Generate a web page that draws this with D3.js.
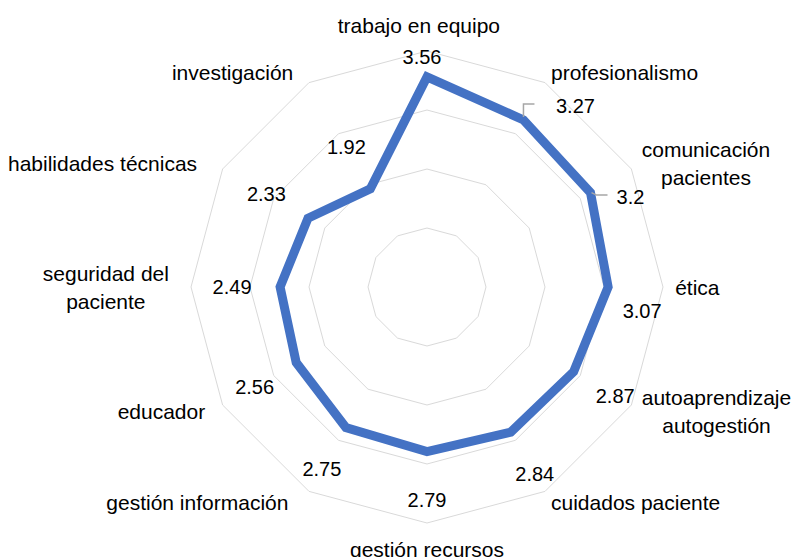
<!DOCTYPE html>
<html>
<head>
<meta charset="utf-8">
<script src="https://cdn.jsdelivr.net/npm/d3@7"></script>
<style>
  html, body { margin: 0; padding: 0; background: #fff; }
  svg { display: block; }
  text { font-family: "Liberation Sans", Arial, Helvetica, sans-serif; fill: #000; }
</style>
</head>
<body>
<script>
// ---- data ----
const categories = [
  ["trabajo en equipo"],
  ["profesionalismo"],
  ["comunicación", "pacientes"],
  ["ética"],
  ["autoaprendizaje", "autogestión"],
  ["cuidados paciente"],
  ["gestión recursos"],
  ["gestión información"],
  ["educador"],
  ["seguridad del", "paciente"],
  ["habilidades técnicas"],
  ["investigación"]
];
const values = [3.56, 3.27, 3.2, 3.07, 2.87, 2.84, 2.79, 2.75, 2.56, 2.49, 2.33, 1.92];
const valueLabels = ["3.56", "3.27", "3.2", "3.07", "2.87", "2.84", "2.79", "2.75", "2.56", "2.49", "2.33", "1.92"];
const gridLevels = [1, 2, 3, 4];

// ---- layout ----
const W = 799, H = 557;
const cx = 427, cy = 287;
const svg = d3.select("body").append("svg").attr("width", W).attr("height", H);

const r = d3.scaleLinear().domain([0, 4]).range([0, 236]);
const n = categories.length;
const angle = d3.scaleLinear().domain([0, n]).range([0, 2 * Math.PI]);
const pt = (i, rad) => [cx + rad * Math.sin(angle(i)), cy - rad * Math.cos(angle(i))];

// grid rings
const ringLine = d3.line().curve(d3.curveLinearClosed);
svg.append("g").selectAll("path").data(gridLevels).join("path")
  .attr("d", lv => ringLine(d3.range(n).map(i => pt(i, r(lv)))))
  .attr("fill", "none").attr("stroke", "#d9d9d9").attr("stroke-width", 1);

// series
const seriesLine = d3.line().curve(d3.curveLinearClosed);
svg.append("path")
  .attr("d", seriesLine(values.map((v, i) => pt(i, r(v)))))
  .attr("fill", "none").attr("stroke", "#4472C4").attr("stroke-width", 9)
  .attr("stroke-linejoin", "miter").attr("stroke-miterlimit", 10);

// category labels
const labR = 248, lineH = 28;
const catG = svg.append("g").attr("font-size", 21);
categories.forEach((lines, i) => {
  const [px, py] = pt(i, labR);
  const s = Math.sin(angle(i)), c = Math.cos(angle(i));
  const t = catG.append("text").attr("dominant-baseline", "central");
  lines.forEach((ln, k) => t.append("tspan").attr("x", 0).attr("dy", k === 0 ? 0 : lineH).text(ln));
  const bb = t.node().getBBox();
  const w = bb.width;
  let left;
  if (s > 0.01) left = px;
  else if (s < -0.01) left = px - w - 0.08 * w;
  else left = px - w / 2 - (c > 0 ? 0.05 * w : 0);
  const midX = left + w / 2;
  t.selectAll("tspan").attr("x", midX);
  t.attr("text-anchor", "middle");
  const blockH = (lines.length - 1) * lineH;
  let y0;
  if (Math.abs(s) < 0.01) y0 = c > 0 ? py - 14 : py + 14;
  else y0 = py - blockH / 2;
  t.attr("transform", `translate(0,${y0})`);
});

// value labels (default: radial offset from the point; a few were moved in the original)
const valOffset = 48;
const movedLabels = { 0: [-5, -20], 1: [52, -14], 2: [40, 4], 3: [34, 24] };
const valG = svg.append("g").attr("font-size", 20);
values.forEach((v, i) => {
  const [px, py] = pt(i, r(v));
  let lx, ly;
  if (movedLabels[i]) { lx = px + movedLabels[i][0]; ly = py + movedLabels[i][1]; }
  else { const [qx, qy] = pt(i, r(v) + valOffset); lx = qx; ly = qy; }
  valG.append("text").attr("x", lx).attr("y", ly)
    .attr("text-anchor", "middle").attr("dominant-baseline", "central")
    .text(valueLabels[i]);
});

// leader lines for moved labels
const leader = svg.append("g").attr("fill", "none").attr("stroke", "#a6a6a6").attr("stroke-width", 1.5);
{
  const [px, py] = pt(1, r(values[1]));
  leader.append("path").attr("d", d3.line()([[px, py - 3], [px, py - 16], [px + 11, py - 16]]));
}
{
  const [px, py] = pt(2, r(values[2]));
  leader.append("path").attr("d", d3.line()([[px + 1, py], [px + 6, py + 2.5], [px + 17, py + 2.5]]));
}
</script>
</body>
</html>
